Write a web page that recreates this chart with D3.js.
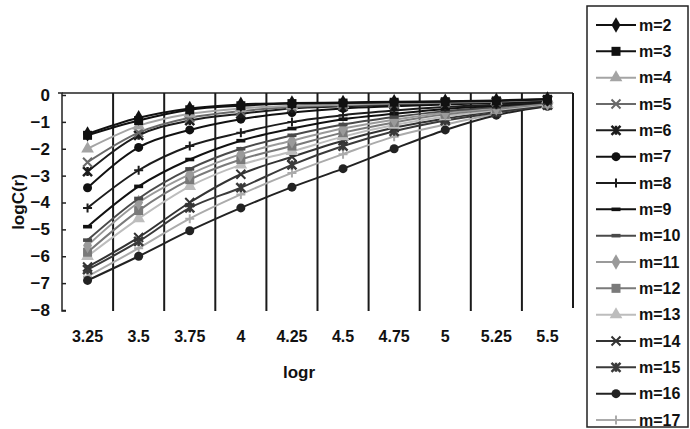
<!DOCTYPE html>
<html>
<head>
<meta charset="utf-8">
<script src="https://cdn.jsdelivr.net/npm/d3@7"></script>
<style>
  body { margin: 0; background: #fff; }
  text { font-family: "Liberation Sans", Arial, sans-serif; fill: #111; }
</style>
</head>
<body>
<svg id="chart" width="690" height="429"></svg>
<script>
var categories = ['3.25', '3.5', '3.75', '4', '4.25', '4.5', '4.75', '5', '5.25', '5.5'];
var yTicks = [0, -1, -2, -3, -4, -5, -6, -7, -8];

var m2  = [-1.45, -0.85, -0.50, -0.35, -0.30, -0.28, -0.25, -0.23, -0.20, -0.15];
var m3  = [-1.50, -0.95, -0.55, -0.40, -0.32, -0.30, -0.27, -0.25, -0.22, -0.16];
var m4  = [-2.00, -1.15, -0.70, -0.50, -0.40, -0.35, -0.30, -0.27, -0.23, -0.17];
var m5  = [-2.50, -1.40, -0.85, -0.60, -0.45, -0.38, -0.33, -0.29, -0.25, -0.18];
var m6  = [-2.85, -1.50, -0.95, -0.70, -0.50, -0.42, -0.36, -0.31, -0.27, -0.20];
var m7  = [-3.45, -1.95, -1.30, -0.90, -0.65, -0.50, -0.42, -0.35, -0.30, -0.21];
var m8  = [-4.20, -2.80, -1.90, -1.40, -1.00, -0.75, -0.58, -0.45, -0.36, -0.24];
var m9  = [-4.90, -3.40, -2.40, -1.70, -1.25, -0.90, -0.70, -0.52, -0.40, -0.26];
var m10 = [-5.40, -3.85, -2.75, -2.00, -1.50, -1.10, -0.82, -0.60, -0.45, -0.28];
var m11 = [-5.60, -4.00, -2.95, -2.20, -1.70, -1.25, -0.92, -0.66, -0.48, -0.30];
var m12 = [-5.85, -4.30, -3.15, -2.40, -1.90, -1.40, -1.02, -0.72, -0.52, -0.32];
var m13 = [-6.00, -4.60, -3.40, -2.60, -2.10, -1.55, -1.12, -0.80, -0.56, -0.34];
var m14 = [-6.40, -5.30, -4.00, -2.95, -2.30, -1.70, -1.22, -0.88, -0.60, -0.36];
var m15 = [-6.50, -5.45, -4.20, -3.45, -2.60, -1.90, -1.35, -0.95, -0.65, -0.38];
var m16 = [-6.90, -6.00, -5.05, -4.20, -3.43, -2.74, -2.00, -1.30, -0.75, -0.42];
var m17 = [-6.75, -5.70, -4.60, -3.70, -2.90, -2.20, -1.55, -1.10, -0.70, -0.40];

var seriesNames = ['m=2', 'm=3', 'm=4', 'm=5', 'm=6', 'm=7', 'm=8', 'm=9',
                   'm=10', 'm=11', 'm=12', 'm=13', 'm=14', 'm=15', 'm=16', 'm=17'];
var seriesValues = [m2, m3, m4, m5, m6, m7, m8, m9, m10, m11, m12, m13, m14, m15, m16, m17];

// colour and marker for every series, same order as seriesNames
var styles = [
    { color: '#111', shape: 'diamond' },
    { color: '#111', shape: 'square' },
    { color: '#a4a4a4', shape: 'triangle' },
    { color: '#6a6a6a', shape: 'cross' },
    { color: '#1c1c1c', shape: 'star' },
    { color: '#111', shape: 'circle' },
    { color: '#1c1c1c', shape: 'plus' },
    { color: '#111', shape: 'dash' },
    { color: '#4a4a4a', shape: 'dash' },
    { color: '#9a9a9a', shape: 'diamond' },
    { color: '#7a7a7a', shape: 'square' },
    { color: '#bdbdbd', shape: 'triangle' },
    { color: '#333', shape: 'cross' },
    { color: '#3a3a3a', shape: 'star' },
    { color: '#222', shape: 'circle' },
    { color: '#ababab', shape: 'plus' }
];

var svg = d3.select('#chart');

var plot = { left: 62, right: 573, top: 93, bottom: 311 };

var x = d3.scaleBand()
    .domain(categories)
    .range([plot.left, plot.right])
    .padding(0);

var y = d3.scaleLinear()
    .domain([-8, 0])
    .range([310, 95]);

var cx = function(c) { return x(c) + x.bandwidth() / 2; };

// frame: top and right border, vertical grid lines between categories
svg.append('line')
    .attr('x1', plot.left).attr('x2', plot.right)
    .attr('y1', plot.top).attr('y2', plot.top)
    .attr('stroke', '#222').attr('stroke-width', 1.5);

svg.append('g')
    .selectAll('line')
    .data(categories.slice(1).concat(['end']))
    .enter().append('line')
        .attr('x1', function(d) { return d === 'end' ? plot.right : x(d); })
        .attr('x2', function(d) { return d === 'end' ? plot.right : x(d); })
        .attr('y1', plot.top)
        .attr('y2', function(d) { return d === 'end' ? plot.bottom - 3 : plot.bottom; })
        .attr('stroke', '#1a1a1a')
        .attr('stroke-width', 2);

// y axis with small inner ticks
var yAxis = svg.append('g')
    .attr('transform', 'translate(' + plot.left + ',0)')
    .call(d3.axisLeft(y).tickValues(yTicks).tickSize(-4).tickPadding(12).tickFormat(d3.format('d')));
yAxis.select('.domain')
    .attr('d', 'M-4,' + plot.top + 'H0V' + plot.bottom + 'H4')
    .attr('stroke', '#222').attr('stroke-width', 1.5);
yAxis.selectAll('.tick line').attr('stroke', '#222').attr('stroke-width', 1.5);
yAxis.selectAll('text')
    .style('font-size', '17px')
    .style('font-weight', 'bold')
    .attr('font-family', null)
    .attr('fill', '#111');

// x tick labels
svg.append('g')
    .selectAll('text')
    .data(categories)
    .enter().append('text')
        .attr('x', cx)
        .attr('y', 342)
        .attr('text-anchor', 'middle')
        .style('font-size', '16px')
        .style('font-weight', 'bold')
        .text(function(d) { return d; });

svg.append('text')
    .attr('x', 299)
    .attr('y', 378)
    .attr('text-anchor', 'middle')
    .style('font-size', '17px')
    .style('font-weight', 'bold')
    .text('logr');

svg.append('text')
    .attr('transform', 'translate(24,202) rotate(-90)')
    .attr('text-anchor', 'middle')
    .style('font-size', '17px')
    .style('font-weight', 'bold')
    .text('logC(r)');

// marker drawing
function drawMarker(sel, shape, color) {
    var s = 4.5;
    if (shape === 'circle') {
        sel.append('circle').attr('r', s).attr('fill', color);
    } else if (shape === 'square') {
        sel.append('rect').attr('x', -s).attr('y', -s).attr('width', 2 * s).attr('height', 2 * s).attr('fill', color);
    } else if (shape === 'diamond') {
        sel.append('path').attr('d', d3.symbol(d3.symbolDiamond, 70)).attr('fill', color);
    } else if (shape === 'triangle') {
        sel.append('path').attr('d', d3.symbol(d3.symbolTriangle, 70)).attr('fill', color);
    } else if (shape === 'cross') {
        sel.append('path').attr('d', 'M' + -s + ',' + -s + 'L' + s + ',' + s + 'M' + s + ',' + -s + 'L' + -s + ',' + s)
            .attr('stroke', color).attr('stroke-width', 2).attr('fill', 'none');
    } else if (shape === 'star') {
        sel.append('path').attr('d', 'M' + -s + ',' + -s + 'L' + s + ',' + s + 'M' + s + ',' + -s + 'L' + -s + ',' + s + 'M0,' + -s + 'L0,' + s)
            .attr('stroke', color).attr('stroke-width', 2.5).attr('fill', 'none');
    } else if (shape === 'plus') {
        sel.append('path').attr('d', 'M' + -s + ',0L' + s + ',0M0,' + -s + 'L0,' + s)
            .attr('stroke', color).attr('stroke-width', 2).attr('fill', 'none');
    } else if (shape === 'dash') {
        sel.append('rect').attr('x', -s).attr('y', -1.8).attr('width', 2 * s).attr('height', 3.6).attr('fill', color);
    }
}

var line = d3.line()
    .x(function(d, i) { return cx(categories[i]); })
    .y(function(d) { return y(d); })
    .curve(d3.curveMonotoneX);

// draw bottom series first so the top ones stay on top
var order = d3.range(seriesValues.length).reverse();

var seriesG = svg.append('g')
    .selectAll('g')
    .data(order)
    .enter().append('g');

seriesG.append('path')
    .attr('d', function(k) { return line(seriesValues[k]); })
    .attr('fill', 'none')
    .attr('stroke', function(k) { return styles[k].color; })
    .attr('stroke-width', 2);

seriesG.each(function(k) {
    var g = d3.select(this);
    seriesValues[k].forEach(function(v, i) {
        var mk = g.append('g')
            .attr('transform', 'translate(' + cx(categories[i]) + ',' + y(v) + ')');
        drawMarker(mk, styles[k].shape, styles[k].color);
    });
});

// legend
var legend = svg.append('g');
legend.append('rect')
    .attr('x', 587).attr('y', 6)
    .attr('width', 101).attr('height', 421)
    .attr('fill', '#fff')
    .attr('stroke', '#222').attr('stroke-width', 1.5);

var legendY = d3.scaleLinear().domain([0, seriesNames.length - 1]).range([25, 420]);

var items = legend.selectAll('.item')
    .data(seriesNames)
    .enter().append('g')
        .attr('class', 'item')
        .attr('transform', function(d, i) { return 'translate(0,' + legendY(i) + ')'; });

items.append('line')
    .attr('x1', 596).attr('x2', 636)
    .attr('stroke', function(d, i) { return styles[i].color; })
    .attr('stroke-width', 2);

items.each(function(d, i) {
    var mk = d3.select(this).append('g').attr('transform', 'translate(616,0)');
    drawMarker(mk, styles[i].shape, styles[i].color);
});

items.append('text')
    .attr('x', 639)
    .attr('dy', '0.36em')
    .style('font-size', '16px')
    .style('font-weight', 'bold')
    .text(function(d) { return d; });
</script>
</body>
</html>
